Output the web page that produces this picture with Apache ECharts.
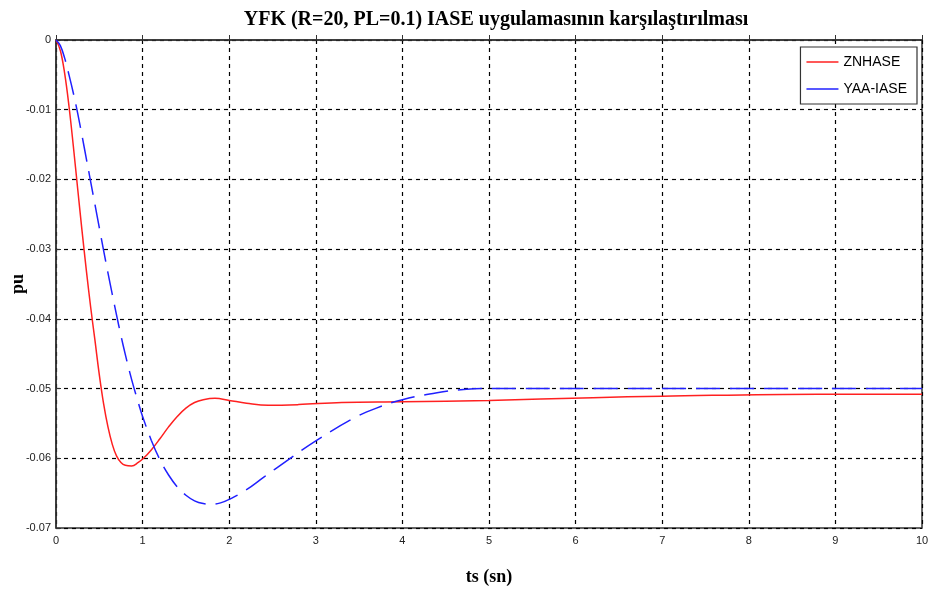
<!DOCTYPE html>
<html>
<head>
<meta charset="utf-8">
<script src="https://cdn.jsdelivr.net/npm/echarts@6/dist/echarts.min.js"></script>
<style>
  html, body { margin: 0; padding: 0; background: #fff; }
  #chart { width: 932px; height: 592px; }
</style>
</head>
<body>
<div id="chart"></div>
<script>
// Time samples (s) and responses (pu) for the two controllers
const seriesNames = ['ZNHASE', 'YAA-IASE'];

const znTime = [0, 0.05, 0.1, 0.15, 0.2, 0.25, 0.3, 0.35, 0.4, 0.45, 0.5, 0.55, 0.6, 0.65, 0.7, 0.75, 0.8, 0.874, 0.95, 1.01, 1.1, 1.2, 1.3, 1.4, 1.5, 1.6, 1.7, 1.836, 2.0, 2.2, 2.45, 2.8, 3.3, 4.0, 5.0, 6.2, 7.0, 8.8, 10];
const znValue = [0, -0.0015, -0.0048, -0.0095, -0.0152, -0.0213, -0.0273, -0.0330, -0.0383, -0.0431, -0.0480, -0.0522, -0.0555, -0.0580, -0.0597, -0.0606, -0.0610, -0.0611, -0.0606, -0.0600, -0.0588, -0.0572, -0.0555, -0.0540, -0.0528, -0.0520, -0.0516, -0.0514, -0.0517, -0.0521, -0.0524, -0.0523, -0.0520, -0.0519, -0.0517, -0.0513, -0.0511, -0.0508, -0.0508];

const yaaTime = [0, 0.05, 0.1, 0.15, 0.2, 0.25, 0.3, 0.35, 0.4, 0.45, 0.5, 0.55, 0.6, 0.65, 0.7, 0.75, 0.8, 0.85, 0.9, 0.95, 1.0, 1.1, 1.2, 1.3, 1.4, 1.5, 1.6, 1.7, 1.8, 1.9, 2.0, 2.2, 2.4, 2.66, 3.0, 3.43, 3.7, 4.0, 4.4, 4.74, 5.0, 10];
const yaaValue = [0, -0.0008, -0.0026, -0.0050, -0.0076, -0.0105, -0.0137, -0.0170, -0.0203, -0.0236, -0.0269, -0.0302, -0.0334, -0.0365, -0.0395, -0.0424, -0.0451, -0.0476, -0.0499, -0.0520, -0.0540, -0.0574, -0.0602, -0.0624, -0.0641, -0.0653, -0.0661, -0.0665, -0.0666, -0.0664, -0.0659, -0.0645, -0.0627, -0.0604, -0.0575, -0.0543, -0.0528, -0.0516, -0.0506, -0.0501, -0.0500, -0.0500];

const xTicks = { min: 0, max: 10, step: 1 };
const yTicks = { min: -0.07, max: 0, step: 0.01 };

const pairs = (xs, ys) => xs.map((x, i) => [x, ys[i]]);

const chart = echarts.init(document.getElementById('chart'), null, { renderer: 'canvas' });

const gridLine = { show: true, lineStyle: { color: '#000', width: 1.2, type: [4, 4] } };
const tickLabel = { color: '#222', fontFamily: 'Liberation Sans, Arial, sans-serif', fontSize: 11 };
const serifBold = { fontFamily: 'Liberation Serif, Times New Roman, serif', fontWeight: 'bold', color: '#000' };

chart.setOption({
  animation: false,
  backgroundColor: '#fff',
  title: {
    text: 'YFK (R=20, PL=0.1) IASE uygulamasının karşılaştırılması',
    left: 491,
    textAlign: 'center',
    top: 5,
    textStyle: Object.assign({ fontSize: 20 }, serifBold)
  },
  grid: {
    left: 56, right: 10, top: 40, bottom: 64,
    outerBoundsMode: 'none',
    containLabel: false,
    show: true, borderColor: '#333', borderWidth: 1.5, backgroundColor: '#fff'
  },
  legend: {
    data: seriesNames,
    orient: 'vertical',
    right: 15,
    top: 47,
    backgroundColor: '#fff',
    borderColor: '#333',
    borderWidth: 1.2,
    borderRadius: 0,
    padding: [7, 10, 7, 6],
    icon: 'rect',
    itemWidth: 32,
    itemHeight: 1.5,
    itemGap: 11,
    textStyle: { fontFamily: 'Liberation Sans, Arial, sans-serif', fontSize: 14, color: '#000', lineHeight: 16 }
  },
  xAxis: {
    type: 'value',
    min: xTicks.min, max: xTicks.max, interval: xTicks.step,
    name: 'ts (sn)',
    nameLocation: 'middle',
    nameGap: 40,
    nameMoveOverlap: false,
    nameTextStyle: Object.assign({ fontSize: 18 }, serifBold),
    axisLine: { show: true, lineStyle: { color: '#333', width: 1.5 } },
    axisTick: { show: true, inside: true, length: 5, lineStyle: { color: '#333' } },
    axisLabel: Object.assign({ margin: 7 }, tickLabel),
    splitLine: gridLine
  },
  yAxis: {
    type: 'value',
    min: yTicks.min, max: yTicks.max, interval: yTicks.step,
    name: 'pu',
    nameLocation: 'middle',
    nameRotate: 90,
    nameGap: 29,
    nameMoveOverlap: false,
    nameTextStyle: Object.assign({ fontSize: 18 }, serifBold),
    axisLine: { show: true, lineStyle: { color: '#333', width: 1.5 } },
    axisTick: { show: true, inside: true, length: 5, lineStyle: { color: '#333' } },
    axisLabel: Object.assign({ margin: 5 }, tickLabel),
    splitLine: gridLine
  },
  series: [
    {
      name: seriesNames[0],
      type: 'line',
      data: pairs(znTime, znValue),
      symbol: 'none',
      smooth: 0.4,
      color: '#ff2020',
      lineStyle: { color: '#ff2020', width: 1.5, type: 'solid' }
    },
    {
      name: seriesNames[1],
      type: 'line',
      data: pairs(yaaTime, yaaValue),
      symbol: 'none',
      smooth: 0.4,
      color: '#2020ff',
      lineStyle: { color: '#2020ff', width: 1.5, type: [24, 10] }
    }
  ]
});
</script>
</body>
</html>
